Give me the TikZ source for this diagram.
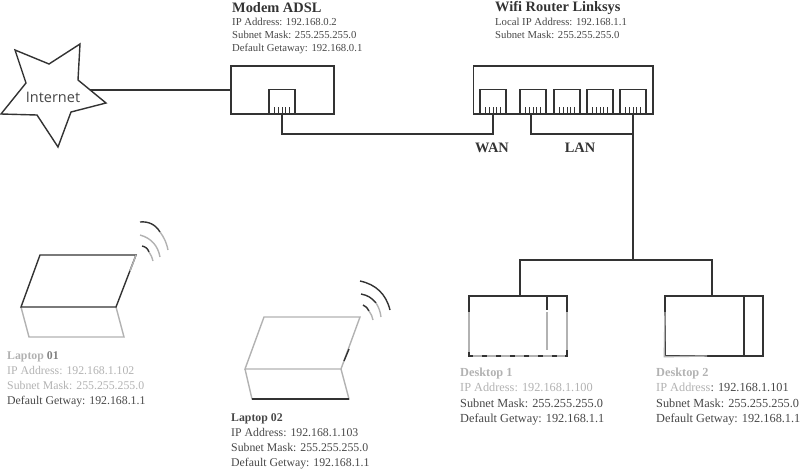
\documentclass[tikz,border=0pt]{standalone}
\usepackage{fontspec}
\setmainfont{Liberation Serif}
\setsansfont{Open Sans}
\usetikzlibrary{calc, positioning}
\definecolor{ink}{gray}{0.2}
\definecolor{fade}{gray}{0.7}
\definecolor{txt}{gray}{0.28}
\tikzset{
  box/.style={rectangle, draw=ink, line width=1.4pt, fill=white, inner sep=0pt},
  port/.style={box, minimum width=26pt, minimum height=24pt, anchor=south},
  pin/.style={ink, line width=0.9pt},
  wire/.style={ink, line width=1.4pt},
  faded/.style={fade, line width=1.4pt},
  dark/.style={ink, line width=1.4pt},
  hdr/.style={font=\fontsize{14.4}{15}\selectfont\bfseries, text=ink, inner sep=0pt, anchor=west},
  info/.style={font=\fontsize{10.7}{13}\selectfont, text=txt, align=left, inner sep=0pt, anchor=north west},
  lapinfo/.style={font=\fontsize{11.8}{15.2}\selectfont, text=txt, align=left, inner sep=0pt, anchor=north west},
  pcinfo/.style={lapinfo, font=\fontsize{12.3}{15.2}\selectfont},
}
\newcommand{\gr}[1]{\textcolor{fade}{#1}}
\begin{document}
\begin{tikzpicture}[x=1pt, y=-1pt]
  \useasboundingbox (0,0) rectangle (800,471);
  % internet
  \draw[dark, line join=miter, fill=white] (15,50) -- (49,64) -- (80,44) -- (78,80) -- (106,103)
    -- (71,112) -- (58,147) -- (37,115) -- (1,114) -- (26,83) -- cycle;
  \coordinate (tip) at (90,90);
  \node[font=\sffamily\fontsize{14.5}{15}\selectfont, text=txt, inner sep=0pt] (inet) at (53,97.5) {Internet};
  % modem
  \node[box, minimum width=103pt, minimum height=48pt] (modem) at (282.5,90) {};
  \node[port] (mport) at (282,114) {};
  \node[hdr] (mtitle) at (232,7.5) {Modem ADSL};
  \node[info] (minfo) at (232,17.5) {IP Address: 192.168.0.2\\Subnet Mask: 255.255.255.0\\Default Getaway: 192.168.0.1};
  % router
  \node[box, minimum width=179.5pt, minimum height=48pt] (router) at (563.25,90) {};
  \node[port] (wan) at (493,114) {};
  \node[port] (lana) at (533,114) {};
  \node[port] (lanb) at (567,114) {};
  \node[port] (lanc) at (600,114) {};
  \node[port] (land) at (633,114) {};
  \node[hdr] (rtitle) at (495,7.5) {Wifi Router Linksys};
  \node[info] (rinfo) at (495,17.5) {Local IP Address: 192.168.1.1\\Subnet Mask: 255.255.255.0};
  \node[hdr, anchor=center] (wanlbl) at (492,148) {WAN};
  \node[hdr, anchor=center] (lanlbl) at (580,148) {LAN};
  \foreach \p in {mport,wan,lana,lanb,lanc,land}
    \foreach \i in {-2,...,2}
      \draw[pin] ($(\p.south)+(\i*3.6,0)$) -- ++(0,-7);
  % desktops
  \node[box, minimum width=98pt, minimum height=60pt] (desk1) at (518,326) {};
  \node[box, minimum width=98pt, minimum height=60pt] (desk2) at (714,326) {};
  \draw[faded] (469,312) -- (469,352);
  \draw[faded] (547,312) -- (547,350);
  \draw[faded] (567,312) -- (567,350);
  \draw[faded, dash pattern=on 9pt off 5pt] (473,356) -- (565,356);
  \draw[faded] (665,312) -- (desk2.south west) -- (707,356);
  \draw[dark] (744,296) -- (744,356);
  \draw[dark] (547,296) -- (547,310);
  \node[pcinfo] (d1info) at (460,368) {\gr{\textbf{Desktop 1}}\\\gr{IP Address: 192.168.1.100}\\Subnet Mask: 255.255.255.0\\Default Getway: 192.168.1.1};
  \node[pcinfo] (d2info) at (656,368) {\gr{\textbf{Desktop 2}}\\\gr{IP Address}: 192.168.1.101\\Subnet Mask: 255.255.255.0\\Default Getway: 192.168.1.1};
  % connectors
  \draw[wire] (tip) -- (modem.west);
  \draw[wire] (mport.south) -- ++(0,20) -| (wan.south);
  \draw[wire] ([xshift=-2pt]lana.south) |- (633,134) -- (land.south);
  \coordinate (hub) at (633,260);
  \draw[wire] (land.south) -- (hub);
  \draw[wire] (desk1.north) ++(2,0) |- (hub) -| ([xshift=-2pt]desk2.north);
  % laptops
  \draw[faded] (21,307) -- (29,337) -- (124,337) -- (116,307);
  \draw[dark] (21,307) -- (40,255) -- (136,255) -- (116,307) -- cycle;
  \draw[faded] (136,255) -- (130,271);
  \draw[dark] (140,222) to[bend left=32] (160,232);
  \draw[faded] (160,232) to[bend left=12] (168,250);
  \draw[faded] (140,235) to[bend left=32] (160,257);
  \draw[dark] (142,246) to[bend left=30] (149,252);
  \draw[faded] (149,252) to[bend left=10] (153,261);
  \node[lapinfo] (l1info) at (7,351) {\gr{\textbf{Laptop} }\textcolor{fade!60!ink}{\textbf{01}}\\\gr{IP Address: 192.168.1.102}\\\gr{Subnet Mask: 255.255.255.0}\\Default Getway: 192.168.1.1};
  \draw[faded] (245,369) -- (264,317) -- (360,317) -- (341,369) -- cycle;
  \draw[faded] (245,369) -- (252,399) -- (349,399) -- (341,369);
  \draw[dark] (252,399) -- (349,399);
  \draw[dark] (344,361) -- (349,349);
  \draw[dark] (360,281) to[bend left=32] (390,310);
  \draw[dark] (361,294) to[bend left=20] (376,303);
  \draw[faded] (376,303) to[bend left=12] (381,317);
  \draw[dark] (363,305) to[bend left=20] (369,311);
  \draw[faded] (369,311) to[bend left=12] (373,320);
  \node[lapinfo] (l2info) at (231,413) {\textbf{Laptop 02}\\IP Address: 192.168.1.103\\Subnet Mask: 255.255.255.0\\Default Getway: 192.168.1.1};
\end{tikzpicture}
\end{document}
